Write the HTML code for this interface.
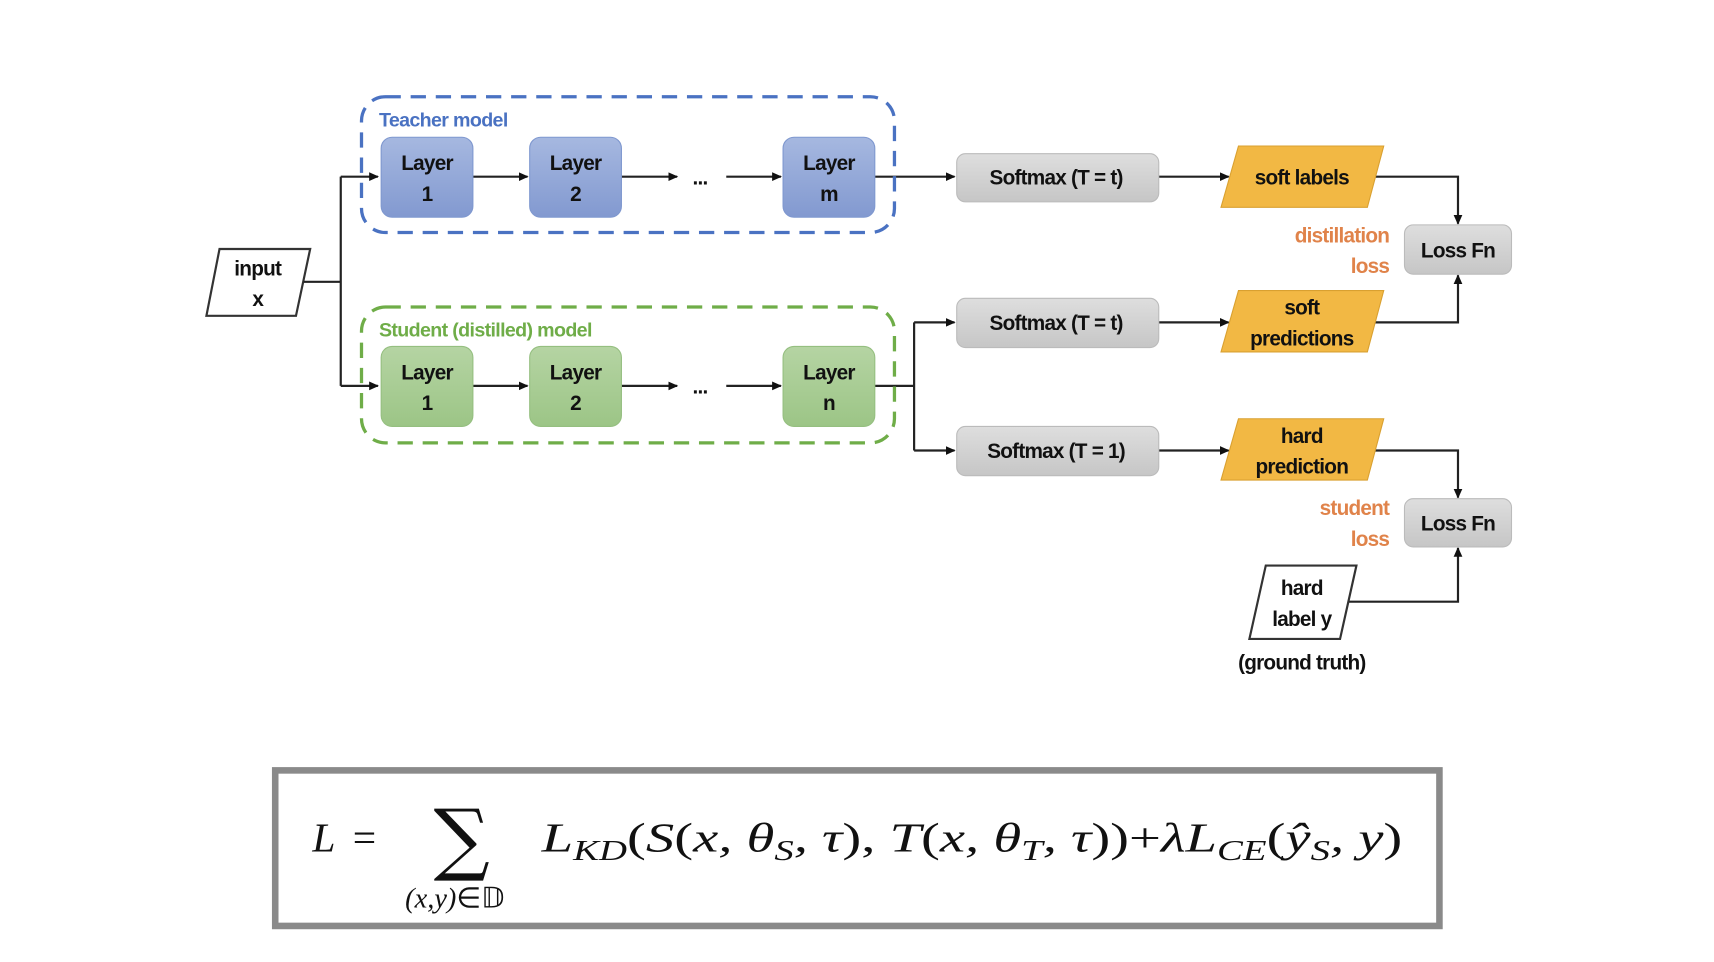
<!DOCTYPE html>
<html><head><meta charset="utf-8"><style>
html,body{margin:0;padding:0;background:#fff;}
svg{display:block}
.t{font-family:"Liberation Sans",sans-serif;font-weight:bold;font-size:19px;fill:#111;text-anchor:middle;letter-spacing:-0.7px}
.m{font-family:"Liberation Serif",serif;font-size:38px;fill:#111;font-style:italic}
</style></head><body>
<svg width="1714" height="962" viewBox="0 0 1560 875" xmlns="http://www.w3.org/2000/svg">
<defs>
<marker id="a" markerWidth="10" markerHeight="10" refX="8" refY="5" orient="auto" markerUnits="userSpaceOnUse">
<path d="M0,1 L9,5 L0,9 z" fill="#111"/></marker>
<linearGradient id="gb" x1="0" y1="0" x2="0" y2="1"><stop offset="0" stop-color="#a6b8e0"/><stop offset="1" stop-color="#8299d0"/></linearGradient>
<linearGradient id="gg" x1="0" y1="0" x2="0" y2="1"><stop offset="0" stop-color="#b5d4a3"/><stop offset="1" stop-color="#9cc586"/></linearGradient>
<linearGradient id="gy" x1="0" y1="0" x2="0" y2="1"><stop offset="0" stop-color="#dedede"/><stop offset="1" stop-color="#c6c6c6"/></linearGradient>
</defs>
<g transform="translate(1,0) scale(0.994,0.997)">
<g stroke="#222" stroke-width="2" fill="none">
<polygon points="200,227 283,227 270,288 188,288" fill="#fff" stroke="#333"/>
<path d="M277,257 H311 M311,161 V352"/>
<path d="M311,161 H345" marker-end="url(#a)"/>
<path d="M311,352 H345" marker-end="url(#a)"/>
<path d="M432,161 H482" marker-end="url(#a)"/>
<path d="M568,161 H619" marker-end="url(#a)"/>
<path d="M664,161 H714" marker-end="url(#a)"/>
<path d="M800,161 H873" marker-end="url(#a)"/>
<path d="M432,352 H482" marker-end="url(#a)"/>
<path d="M568,352 H619" marker-end="url(#a)"/>
<path d="M664,352 H714" marker-end="url(#a)"/>
<path d="M800,352 H836 M836,294 V411"/>
<path d="M836,294 H873" marker-end="url(#a)"/>
<path d="M836,411 H873" marker-end="url(#a)"/>
<path d="M1060,161 H1124" marker-end="url(#a)"/>
<path d="M1060,294 H1124" marker-end="url(#a)"/>
<path d="M1060,411 H1124" marker-end="url(#a)"/>
<path d="M1258,161 H1334 V204" marker-end="url(#a)"/>
<path d="M1258,294 H1334 V251" marker-end="url(#a)"/>
<path d="M1258,411 H1334 V454" marker-end="url(#a)"/>
<path d="M1234,549 H1334 V500" marker-end="url(#a)"/>
</g>
<rect x="330" y="88" width="488" height="124" rx="22" fill="none" stroke="#4a72c2" stroke-width="3" stroke-dasharray="14,9"/>
<rect x="330" y="280" width="488" height="124" rx="22" fill="none" stroke="#6fad48" stroke-width="3" stroke-dasharray="14,9"/>
<text x="346" y="115" style="font-family:'Liberation Sans',sans-serif;font-weight:bold;font-size:18px;fill:#4a72c2;letter-spacing:-0.6px">Teacher model</text>
<text x="346" y="307" style="font-family:'Liberation Sans',sans-serif;font-weight:bold;font-size:18px;fill:#6fad48;letter-spacing:-0.6px">Student (distilled) model</text>
<g stroke="#7f98cf" stroke-width="1">
<rect x="348" y="125" width="84" height="73" rx="10" fill="url(#gb)"/>
<rect x="484" y="125" width="84" height="73" rx="10" fill="url(#gb)"/>
<rect x="716" y="125" width="84" height="73" rx="10" fill="url(#gb)"/>
</g>
<g stroke="#95bf80" stroke-width="1">
<rect x="348" y="316" width="84" height="73" rx="10" fill="url(#gg)"/>
<rect x="484" y="316" width="84" height="73" rx="10" fill="url(#gg)"/>
<rect x="716" y="316" width="84" height="73" rx="10" fill="url(#gg)"/>
</g>
<g class="t">
<text x="390" y="155">Layer</text><text x="390" y="183">1</text>
<text x="526" y="155">Layer</text><text x="526" y="183">2</text>
<text x="758" y="155">Layer</text><text x="758" y="183">m</text>
<text x="390" y="346">Layer</text><text x="390" y="374">1</text>
<text x="526" y="346">Layer</text><text x="526" y="374">2</text>
<text x="758" y="346">Layer</text><text x="758" y="374">n</text>
<text x="640" y="168">...</text><text x="640" y="359">...</text>
<text x="235" y="251">input</text><text x="235" y="279">x</text>
</g>
<g stroke="#bbb" stroke-width="1">
<rect x="875" y="140" width="185" height="44" rx="8" fill="url(#gy)"/>
<rect x="875" y="272" width="185" height="45" rx="8" fill="url(#gy)"/>
<rect x="875" y="389" width="185" height="45" rx="8" fill="url(#gy)"/>
<rect x="1285" y="205" width="98" height="45" rx="8" fill="url(#gy)"/>
<rect x="1285" y="455" width="98" height="44" rx="8" fill="url(#gy)"/>
</g>
<g fill="#f2b844" stroke="#d9a030" stroke-width="1">
<polygon points="1133,133 1266,133 1251,189 1117,189"/>
<polygon points="1133,265 1266,265 1251,321 1117,321"/>
<polygon points="1133,382 1266,382 1251,438 1117,438"/>
</g>
<polygon points="1158,516 1241,516 1226,583 1143,583" fill="#fff" stroke="#333" stroke-width="2"/>
<g class="t">
<text x="966" y="168">Softmax (T = t)</text>
<text x="966" y="301">Softmax (T = t)</text>
<text x="966" y="418">Softmax (T = 1)</text>
<text x="1334" y="235">Loss Fn</text>
<text x="1334" y="484">Loss Fn</text>
<text x="1191" y="168">soft labels</text>
<text x="1191" y="287">soft</text><text x="1191" y="315">predictions</text>
<text x="1191" y="404">hard</text><text x="1191" y="432">prediction</text>
<text x="1191" y="543">hard</text><text x="1191" y="571">label y</text>
<text x="1191" y="611">(ground truth)</text>
</g>
<g class="t" style="fill:#e0834a;text-anchor:end">
<text x="1271" y="221">distillation</text><text x="1271" y="249">loss</text>
<text x="1271" y="470">student</text><text x="1271" y="498">loss</text>
</g>
<rect x="251" y="703" width="1066" height="142" fill="none" stroke="#8a8a8a" stroke-width="6"/>
<text class="m" x="285" y="777">L</text>
<text x="322" y="777" style="font-family:'Liberation Serif',serif;font-size:38px;fill:#111">=</text>
<text x="396" y="790" style="font-family:'DejaVu Serif',serif;font-size:72px;fill:#111">∑</text>
<text x="370" y="828" style="font-family:'Liberation Serif',serif;font-size:26px;fill:#111"><tspan font-style="italic">(x,y)</tspan>∈𝔻</text>
<text class="m" x="495" y="777" textLength="788" lengthAdjust="spacingAndGlyphs">L<tspan font-size="26" dy="8">KD</tspan><tspan dy="-8" font-style="normal">(</tspan>S<tspan font-style="normal">(</tspan>x, θ<tspan font-size="26" dy="8">S</tspan><tspan dy="-8">, τ</tspan><tspan font-style="normal">),</tspan> T<tspan font-style="normal">(</tspan>x, θ<tspan font-size="26" dy="8">T</tspan><tspan dy="-8">, τ</tspan><tspan font-style="normal">))+</tspan>λL<tspan font-size="26" dy="8">CE</tspan><tspan dy="-8" font-style="normal">(</tspan>ŷ<tspan font-size="26" dy="8">S</tspan><tspan dy="-8">, y</tspan><tspan font-style="normal">)</tspan></text>
</g>
</svg>
</body></html>
